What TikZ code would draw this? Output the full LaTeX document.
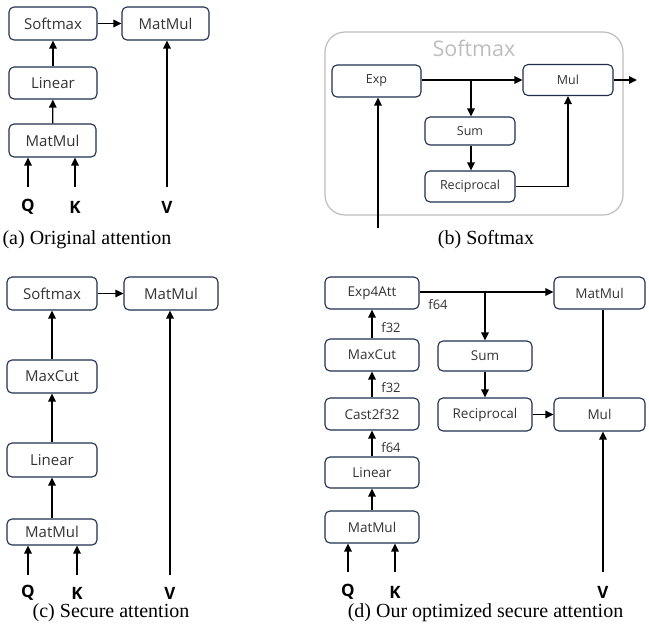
\documentclass[tikz,border=0pt]{standalone}
\usepackage{fontspec}
\setmainfont{Liberation Serif}
\setsansfont{Open Sans}
\usetikzlibrary{arrows.meta}
\definecolor{boxline}{HTML}{1F2F4F}
\definecolor{graybox}{HTML}{BDBDBD}
\tikzset{
  box/.style={draw=boxline, line width=1.1pt, rounded corners=5pt, fill=white,
    inner sep=0pt, font=\sffamily\fontsize{15}{17}\selectfont, text=black!80},
  sbox/.style={box, font=\sffamily\fontsize{13.5}{15}\selectfont},
  bbox/.style={box, font=\sffamily\fontsize{12.5}{14}\selectfont},
  arr/.style={line width=1.3pt, -{Triangle[length=8pt,width=7.5pt]}},
  ln/.style={line width=1.3pt},
  qkv/.style={font=\sffamily\bfseries\fontsize{17}{19}\selectfont},
  capt/.style={font=\fontsize{20}{22}\selectfont},
  lab/.style={font=\sffamily\fontsize{13}{15}\selectfont, text=black!80}
}
\begin{document}
\begin{tikzpicture}[x=1pt,y=-1pt]
\useasboundingbox (0,0) rectangle (649,630);
% ---------- (a)
\node[box, minimum width=88pt, minimum height=33pt] (sa) at (53,23.5) {Softmax};
\node[box, minimum width=87pt, minimum height=33pt] (ma) at (165.5,23.5) {MatMul};
\node[box, minimum width=88pt, minimum height=32pt] (la) at (53,83) {Linear};
\node[box, minimum width=87pt, minimum height=33pt] (mma) at (52.5,140.5) {MatMul};
\node[qkv] (Qa) at (28,207) {Q};
\node[qkv] (Ka) at (75,207) {K};
\node[qkv] (Va) at (167,207) {V};
\coordinate (qa) at (28,187); \coordinate (ka) at (75,187); \coordinate (va) at (167,187);
\draw[arr] (qa) -- (qa |- mma.south);
\draw[arr] (ka) -- (ka |- mma.south);
\draw[arr] (va) -- (va |- ma.south);
\draw[arr] (mma) -- (la);
\draw[arr] (la) -- (sa);
\draw[arr] (sa) -- (ma);
\node[capt] (capa) at (87,240) {(a) Original attention};
% ---------- (b)
\draw[graybox, line width=1.2pt, rounded corners=20pt] (325,32) rectangle (623,215);
\node[font=\sffamily\fontsize{21.5}{24}\selectfont, text=graybox] (sft) at (474,48) {Softmax};
\node[bbox, minimum width=89pt, minimum height=32pt] (exp) at (376.5,81) {Exp};
\node[bbox, minimum width=90pt, minimum height=31pt] (mul) at (568,80) {Mul};
\node[bbox, minimum width=90pt, minimum height=28pt] (sum) at (470,131) {Sum};
\node[bbox, minimum width=90pt, minimum height=31pt] (rec) at (470,186.5) {Reciprocal};
\coordinate (bin) at (378,228);
\coordinate (bout) at (637,80);
\coordinate (bsplit) at (471,80);
\draw[arr] (bin) -- (bin |- exp.south);
\draw[arr] (exp.east |- bsplit) -- (mul.west |- bsplit);
\draw[arr] (bsplit) -- (bsplit |- sum.north);
\draw[arr] (sum.south -| bsplit) -- (bsplit |- rec.north);
\draw[arr] (rec.east) -| (mul.south);
\draw[arr] (mul.east) -- (bout);
\node[capt] (capb) at (486,240) {(b) Softmax};
% ---------- (c)
\node[box, minimum width=90pt, minimum height=33pt] (sc) at (52,293.5) {Softmax};
\node[box, minimum width=94pt, minimum height=33pt] (mc) at (171,293.5) {MatMul};
\node[box, minimum width=90pt, minimum height=33pt] (xc) at (52,376.5) {MaxCut};
\node[box, minimum width=90pt, minimum height=34pt] (lc) at (52,460) {Linear};
\node[box, minimum width=90pt, minimum height=26pt] (mmc) at (52,532) {MatMul};
\node[qkv] (Qc) at (28,593) {Q};
\node[qkv] (Kc) at (77,593) {K};
\node[qkv] (Vc) at (170,593) {V};
\coordinate (qc) at (28,575); \coordinate (kc) at (77,575); \coordinate (vc) at (170,575);
\draw[arr] (qc) -- (qc |- mmc.south);
\draw[arr] (kc) -- (kc |- mmc.south);
\draw[arr] (vc) -- (vc |- mc.south);
\draw[arr] (mmc) -- (lc);
\draw[arr] (lc) -- (xc);
\draw[arr] (xc) -- (sc);
\draw[arr] (sc) -- (mc);
\node[capt] (capc) at (111,613) {(c) Secure attention};
% ---------- (d)
\node[sbox, minimum width=94pt, minimum height=32pt] (e4) at (372,293) {Exp4Att};
\node[sbox, minimum width=91pt, minimum height=32pt] (md) at (599.5,293) {MatMul};
\node[sbox, minimum width=94pt, minimum height=32pt] (xd) at (372,355) {MaxCut};
\node[sbox, minimum width=94pt, minimum height=32pt] (cd) at (372,414) {Cast2f32};
\node[sbox, minimum width=94pt, minimum height=31pt] (ld) at (372,472.5) {Linear};
\node[sbox, minimum width=94pt, minimum height=32pt] (mmd) at (372,527) {MatMul};
\node[sbox, minimum width=94pt, minimum height=30pt] (sd) at (485,356) {Sum};
\node[sbox, minimum width=94pt, minimum height=33pt] (rd) at (485,414.5) {Reciprocal};
\node[sbox, minimum width=91pt, minimum height=33pt] (mud) at (599.5,414.5) {Mul};
\node[qkv] (Qd) at (348,592) {Q};
\node[qkv] (Kd) at (395,592) {K};
\node[qkv] (Vd) at (603,592) {V};
\coordinate (qd) at (348,572); \coordinate (kd) at (395,572); \coordinate (vd) at (603,572);
\coordinate (dsplit) at (485,292);
\draw[arr] (qd) -- (qd |- mmd.south);
\draw[arr] (kd) -- (kd |- mmd.south);
\draw[arr] (vd) -- (vd |- mud.south);
\draw[arr] (mmd) -- (ld);
\draw[arr] (ld) -- (cd);
\draw[arr] (cd) -- (xd);
\draw[arr] (xd) -- (e4);
\draw[arr] (e4.east |- dsplit) -- (md.west |- dsplit);
\draw[arr] (dsplit) -- (dsplit |- sd.north);
\draw[arr] (sd) -- (rd);
\draw[arr] (rd) -- (mud);
\draw[ln] (mud.north -| vd) -- (md.south -| vd);
\node[lab] (f1) at (391,328) {f32};
\node[lab] (f2) at (391,388) {f32};
\node[lab] (f3) at (391,448) {f64};
\node[lab] (f4) at (438,305) {f64};
\node[capt] (capd) at (485.5,613) {(d) Our optimized secure attention};
\end{tikzpicture}
\end{document}
